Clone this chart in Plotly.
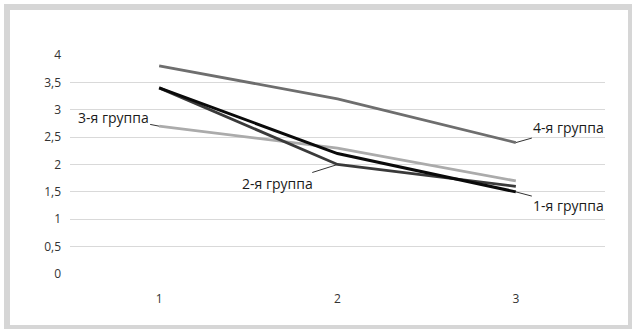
import plotly.graph_objects as go

x_vals = [1, 2, 3]
group_names = ["1-я группа", "2-я группа", "3-я группа", "4-я группа"]
g1 = [3.4, 2.2, 1.5]
g2 = [3.4, 2.0, 1.6]
g3 = [2.7, 2.3, 1.7]
g4 = [3.8, 3.2, 2.4]
y_tickvals = [0, 0.5, 1, 1.5, 2, 2.5, 3, 3.5, 4]
y_ticktext = ["0", "0,5", "1", "1,5", "2", "2,5", "3", "3,5", "4"]
x_ticktext = ["1", "2", "3"]

series = [
    (group_names[3], g4, "#6e6e6e", 2.8),
    (group_names[2], g3, "#ababab", 2.8),
    (group_names[1], g2, "#3a3a3a", 2.8),
    (group_names[0], g1, "#0a0a0a", 3),
]

fig = go.Figure()
for name, ys, color, w in series:
    fig.add_trace(go.Scatter(x=x_vals, y=ys, mode="lines", name=name,
                             line=dict(color=color, width=w), showlegend=False))

font_lbl = dict(family="Open Sans", size=14, color="#1a1a1a")
# label annotations: (name, x index, y value, ax, ay)
labels = [
    (group_names[2], x_vals[0], g3[0], -46, -9),
    (group_names[1], x_vals[1], g2[1], -60, 19),
    (group_names[3], x_vals[2], g4[2], 53, -15),
    (group_names[0], x_vals[2], g1[2], 53, 14),
]
for name, xv, yv, ax, ay in labels:
    fig.add_annotation(x=xv, y=yv, text=name, showarrow=True, arrowhead=0,
                       arrowwidth=1, arrowcolor="#333333", ax=ax, ay=ay,
                       font=font_lbl, standoff=0)

# outer frame
fig.add_shape(type="rect", xref="paper", yref="paper",
              x0=(7 - 70) / 535, x1=(631 - 70) / 535,
              y0=(274 - 328) / 219, y1=(274 - 7) / 219,
              line=dict(color="#d6d6d6", width=6), layer="below")

tick_font = dict(family="Open Sans", size=12, color="#333333")
fig.update_layout(
    width=632, height=329,
    margin=dict(l=70, r=27, t=55, b=55),
    paper_bgcolor="white", plot_bgcolor="white",
    xaxis=dict(range=[0.5, 3.5], tickvals=x_vals, ticktext=x_ticktext,
               showgrid=False, zeroline=False, showline=False,
               ticklabelstandoff=16, tickfont=tick_font),
    yaxis=dict(range=[0, 4], tickvals=y_tickvals, ticktext=y_ticktext,
               showgrid=True, gridcolor="#d9d9d9", gridwidth=1,
               zeroline=False, showline=False, ticklabelstandoff=8,
               tickfont=tick_font),
)
fig.write_html("out.html")
